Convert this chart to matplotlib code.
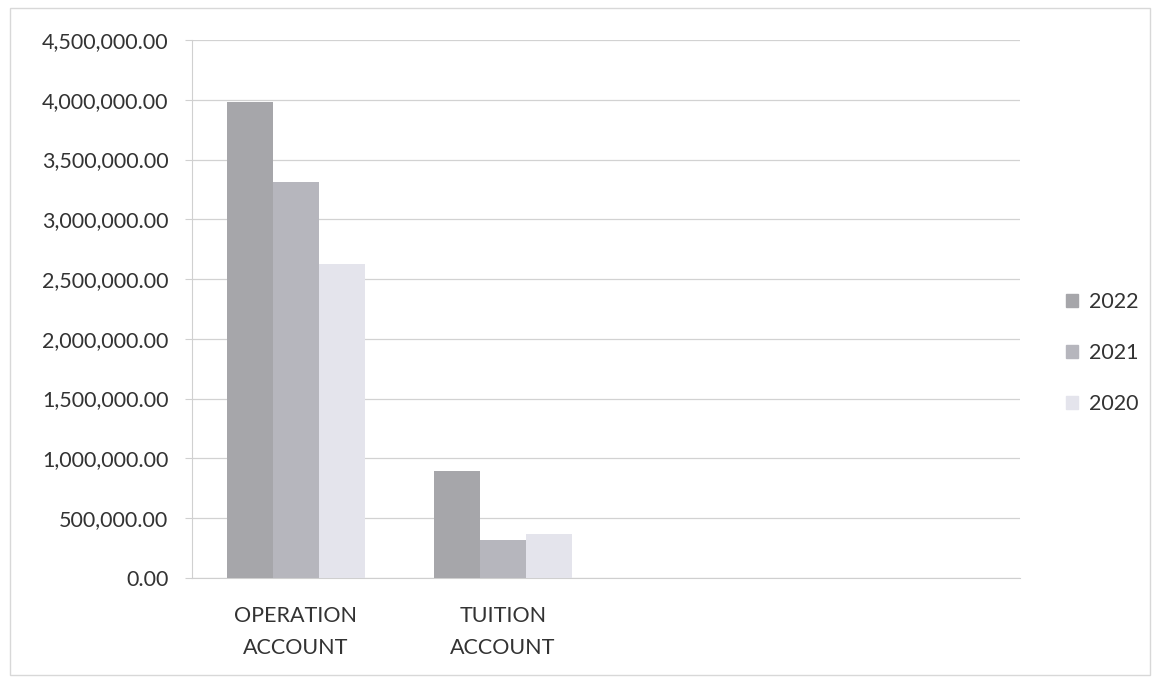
import matplotlib.pyplot as plt
import matplotlib.patches as mpatches
import numpy as np

plt.rcParams['font.family'] = ['Lato', 'DejaVu Sans']

categories = ["OPERATION\nACCOUNT", "TUITION\nACCOUNT"]
years = ["2022", "2021", "2020"]
values_2022 = [3980000, 895000]
values_2021 = [3310000, 315000]
values_2020 = [2630000, 365000]
colors = ["#a6a6aa", "#b6b6bd", "#e4e4ec"]
text_col = "#333333"

fig = plt.figure(figsize=(11.57, 6.79), dpi=100)
ax = fig.add_axes([0.166, 0.149, 0.716, 0.792])

x = np.arange(len(categories))
w = 0.222
series = [values_2022, values_2021, values_2020]
for i, vals in enumerate(series):
    ax.bar(x + (i - 1) * w, vals, width=w, color=colors[i], label=years[i], zorder=3)

ax.set_xlim(-0.5, 3.5)
ax.set_ylim(0, 4500000)
ax.set_yticks(np.arange(0, 4500001, 500000))
ax.set_yticklabels([f"{v:,.2f}" for v in np.arange(0, 4500001, 500000)])
ax.set_xticks(x)
ax.set_xticklabels(categories, linespacing=1.75)

ax.grid(axis="y", color="#d2d2d2", linewidth=0.9, zorder=0)
for s in ["top", "right"]:
    ax.spines[s].set_visible(False)
ax.spines["left"].set_color("#d0d0d0")
ax.spines["bottom"].set_color("#cfcfcf")
ax.tick_params(axis="y", length=5, color="#d0d0d0", labelsize=15.5, labelcolor=text_col, pad=12)
ax.tick_params(axis="x", length=0, labelsize=15.5, labelcolor=text_col, pad=20)

handles = [mpatches.Patch(color=colors[i], label=years[i]) for i in range(3)]
fig.legend(handles=handles, loc="center left", bbox_to_anchor=(0.905, 0.48),
           frameon=False, fontsize=15.5, labelcolor=text_col,
           handlelength=0.55, handleheight=0.55, handletextpad=0.5, labelspacing=1.45)

# outer chart frame
frame = mpatches.Rectangle((0.009, 0.006), 0.985, 0.982, transform=fig.transFigure,
                           fill=False, edgecolor="#d8d8d8", linewidth=1.0)
fig.patches.append(frame)

fig.savefig("out.png", dpi=100, facecolor="white")
